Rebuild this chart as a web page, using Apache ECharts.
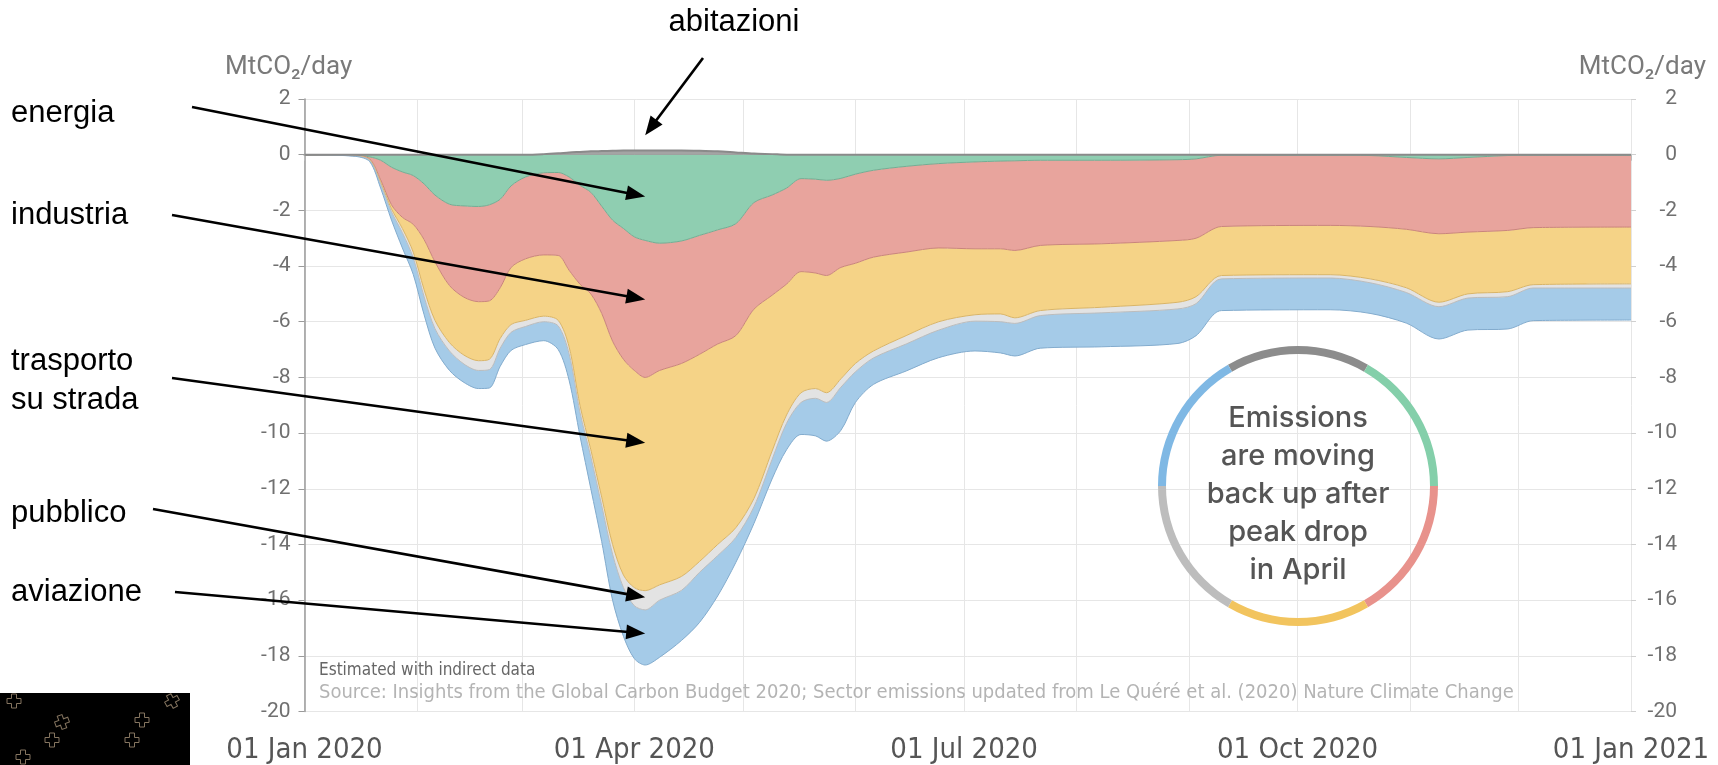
<!DOCTYPE html>
<html>
<head>
<meta charset="utf-8">
<script src="https://cdn.jsdelivr.net/npm/echarts@6/dist/echarts.min.js"></script>
<style>
  html, body { margin: 0; padding: 0; background: #ffffff; }
  #chart { width: 1718px; height: 765px; }
</style>
</head>
<body>
<div id="chart"></div>
<script>
// Daily CO2 emission change by sector in 2020 (MtCO2/day), sampled dates
const dates = [
  '2020-01-01','2020-01-15','2020-01-19','2020-01-22','2020-01-25','2020-01-28','2020-01-31',
  '2020-02-03','2020-02-06','2020-02-10','2020-02-14','2020-02-18','2020-02-21','2020-02-24','2020-02-27',
  '2020-03-02','2020-03-07','2020-03-11','2020-03-14','2020-03-17','2020-03-20','2020-03-23','2020-03-26','2020-03-29',
  '2020-04-01','2020-04-04','2020-04-08','2020-04-14','2020-04-19','2020-04-24','2020-04-29',
  '2020-05-04','2020-05-09','2020-05-13','2020-05-17','2020-05-21','2020-05-24','2020-05-28',
  '2020-06-01','2020-06-06','2020-06-15','2020-06-24',
  '2020-07-04','2020-07-11','2020-07-15','2020-07-22',
  '2020-08-08','2020-08-29','2020-09-03','2020-09-10',
  '2020-10-10','2020-10-21','2020-10-31','2020-11-09','2020-11-17','2020-11-28','2020-12-05','2021-01-01'
];

const abitazioni = [
  0, 0, 0, 0, 0, 0, 0,
  0, 0, 0, 0, 0, 0, 0, 0,
  0, 0.02, 0.05, 0.08, 0.1, 0.12, 0.13, 0.14, 0.15,
  0.15, 0.15, 0.15, 0.15, 0.14, 0.12, 0.08,
  0.04, 0.02, 0, 0, 0, 0, 0,
  0, 0, 0, 0,
  0, 0, 0, 0,
  0, 0, 0, 0,
  0, 0, 0, 0, 0, 0, 0, 0
];

const energia = [
  0, -0.02, -0.08, -0.2, -0.45, -0.62, -0.75,
  -1.05, -1.45, -1.78, -1.84, -1.86, -1.8, -1.6, -1.12,
  -0.8, -0.65, -0.64, -0.8, -1.1, -1.35, -1.85, -2.35, -2.65,
  -2.95, -3.08, -3.18, -3.1, -2.9, -2.7, -2.48,
  -1.72, -1.45, -1.2, -0.86, -0.88, -0.92, -0.85,
  -0.7, -0.56, -0.42, -0.32,
  -0.26, -0.23, -0.22, -0.2,
  -0.2, -0.18, -0.15, -0.02,
  -0.02, -0.03, -0.1, -0.15, -0.1, -0.03, -0.02, -0.02
];

const industria = [
  0, -0.01, -0.07, -0.7, -1.35, -1.63, -1.75,
  -2.0, -2.4, -2.92, -3.28, -3.42, -3.45, -3.18, -2.93,
  -2.94, -2.95, -2.98, -3.35, -3.55, -3.65, -3.85, -4.35, -4.7,
  -4.8, -4.92, -4.57, -4.4, -4.27, -4.1, -4.02,
  -3.83, -3.6, -3.45, -3.34, -3.37, -3.42, -3.2,
  -3.2, -3.12, -3.08, -3.03,
  -3.12, -3.15, -3.22, -3.06,
  -3.0, -2.9, -2.85, -2.56,
  -2.52, -2.55, -2.58, -2.69, -2.68, -2.69, -2.6, -2.58
];

const trasportoSuStrada = [
  0, -0.01, -0.03, -0.1, -0.15, -0.4, -1.0,
  -1.8, -2.1, -2.05, -2.08, -2.12, -2.1, -1.82, -2.05,
  -2.21, -2.2, -2.33, -2.75, -4.35, -5.6, -6.6, -7.3, -7.75,
  -7.8, -7.66, -7.7, -7.65, -7.44, -7.2, -6.9,
  -6.8, -5.6, -4.7, -4.35, -4.15, -4.21, -4.0,
  -3.6, -3.37, -3.0, -2.65,
  -2.37, -2.34, -2.42, -2.34,
  -2.28, -2.22, -2.1, -1.76,
  -1.77, -1.88, -2.1, -2.46, -2.22, -2.2, -2.05, -2.04
];

const pubblico = [
  0, -0.01, -0.02, -0.05, -0.1, -0.15, -0.2,
  -0.25, -0.3, -0.3, -0.32, -0.35, -0.37, -0.35, -0.28,
  -0.22, -0.2, -0.2, -0.25, -0.25, -0.25, -0.3, -0.35, -0.45,
  -0.65, -0.69, -0.55, -0.5, -0.39, -0.4, -0.35,
  -0.3, -0.3, -0.3, -0.35, -0.35, -0.35, -0.3,
  -0.3, -0.25, -0.3, -0.3,
  -0.23, -0.28, -0.2, -0.18,
  -0.2, -0.24, -0.25, -0.12,
  -0.12, -0.14, -0.17, -0.16, -0.15, -0.18, -0.12, -0.15
];

const aviazione = [
  0, -0.01, -0.05, -0.15, -0.3, -0.55, -0.6,
  -0.65, -0.7, -0.7, -0.66, -0.65, -0.66, -0.65, -0.65,
  -0.65, -0.68, -0.85, -0.95, -0.85, -1.15, -1.3, -1.65, -1.75,
  -1.9, -1.98, -2.05, -1.8, -1.8, -1.45, -0.9,
  -0.6, -0.7, -0.95, -1.15, -1.35, -1.39, -1.55,
  -1.1, -0.95, -0.97, -0.99,
  -1.07, -1.12, -1.17, -1.17,
  -1.22, -1.24, -1.15, -1.14,
  -1.14, -1.1, -1.1, -1.16, -1.15, -1.16, -1.17, -1.15
];

// y axis range and step (MtCO2/day)
const yMin = -20, yMax = 2, yStep = 2;
const monthNames = ['Jan','Feb','Mar','Apr','May','Jun','Jul','Aug','Sep','Oct','Nov','Dec'];

// Sector layers, drawn top to bottom of the stack
const sectors = [
  { name: 'abitazioni', values: abitazioni, fill: '#a4a4a4', stroke: '#8a8a8a', lineWidth: 2 },
  { name: 'energia', values: energia, fill: '#8fceb1', stroke: '#72ad93', lineWidth: 1 },
  { name: 'industria', values: industria, fill: '#e8a49d', stroke: '#c9847c', lineWidth: 1 },
  { name: 'trasporto su strada', values: trasportoSuStrada, fill: '#f5d387', stroke: '#d9b466', lineWidth: 1 },
  { name: 'pubblico', values: pubblico, fill: '#e3e3e3', stroke: '#bcbcbc', lineWidth: 1 },
  { name: 'aviazione', values: aviazione, fill: '#a5cbe8', stroke: '#82abcd', lineWidth: 1 }
];

// Ring around the note: one segment per sector colour
const ringSegments = [1, 1, 1, 1, 1, 1];
const ringColors = ['#8c8c8c', '#84cfaa', '#e8928c', '#f2c45e', '#bdbdbd', '#7fb8e4'];

// Callout labels and where their arrows point (date, MtCO2/day)
const callouts = [
  { text: ['abitazioni'], tx: 734, ty: 22, align: 'center', from: [703, 58], tip: ['2020-04-04', 0.7] },
  { text: ['energia'], tx: 11, ty: 113, align: 'left', from: [192, 107], tip: ['2020-04-04', -1.5] },
  { text: ['industria'], tx: 11, ty: 215, align: 'left', from: [172, 215], tip: ['2020-04-04', -5.2] },
  { text: ['trasporto', 'su strada'], tx: 11, ty: 381, align: 'left', from: [172, 378], tip: ['2020-04-04', -10.35] },
  { text: ['pubblico'], tx: 11, ty: 513, align: 'left', from: [153, 509], tip: ['2020-04-04', -15.9] },
  { text: ['aviazione'], tx: 11, ty: 592, align: 'left', from: [175, 592], tip: ['2020-04-04', -17.2] }
];

const AXIS_FONT = '"Liberation Sans Narrow", "DejaVu Sans Condensed", "Roboto", sans-serif';
const TICK_FONT = 'Roboto, "Noto Sans", sans-serif';

function pad2(n) { return n < 10 ? '0' + n : '' + n; }

const chart = echarts.init(document.getElementById('chart'), null, { renderer: 'canvas' });

const areaSeries = sectors.map(function (s, k) {
  return {
    name: s.name,
    type: 'line',
    stack: 'emissions',
    smooth: 0.3,
    symbol: 'none',
    z: k === 0 ? 4 : 2,
    lineStyle: { color: s.stroke, width: s.lineWidth },
    areaStyle: { color: s.fill, opacity: 1 },
    emphasis: { disabled: true },
    data: dates.map(function (d, i) { return [d, s.values[i]]; })
  };
});

const option = {
  animation: false,
  backgroundColor: '#ffffff',
  grid: { left: 304.5, right: 87, top: 99, bottom: 53.5, containLabel: false },
  xAxis: {
    type: 'time',
    min: '2020-01-01',
    max: '2021-01-01',
    splitNumber: 12,
    axisLine: { show: true, lineStyle: { color: '#8c8c8c', width: 2 } },
    axisTick: { show: true, length: 6, lineStyle: { color: '#bbbbbb' } },
    splitLine: { show: true, lineStyle: { color: '#e6e6e6', width: 1 } },
    axisLabel: {
      color: '#555555',
      fontSize: 29,
      fontFamily: AXIS_FONT,
      margin: 24,
      hideOverlap: false,
      showMinLabel: true,
      showMaxLabel: true,
      formatter: function (val) {
        const d = new Date(val);
        if (d.getDate() === 1 && d.getMonth() % 3 === 0) {
          return pad2(d.getDate()) + ' ' + monthNames[d.getMonth()] + ' ' + d.getFullYear();
        }
        return '';
      }
    }
  },
  yAxis: [
    {
      type: 'value', position: 'left', min: yMin, max: yMax, interval: yStep,
      axisLine: { show: true, lineStyle: { color: '#9a9a9a', width: 1.5 } },
      axisTick: { show: true, length: 6, lineStyle: { color: '#9a9a9a' } },
      splitLine: { show: true, lineStyle: { color: '#e6e6e6', width: 1 } },
      axisLabel: { color: '#707070', fontSize: 21, fontFamily: TICK_FONT, margin: 14 }
    },
    {
      type: 'value', position: 'right', min: yMin, max: yMax, interval: yStep,
      axisLine: { show: false },
      axisTick: { show: true, length: 5, lineStyle: { color: '#d0d0d0' } },
      splitLine: { show: false },
      axisLabel: { color: '#707070', fontSize: 21, fontFamily: TICK_FONT, margin: 46, align: 'right' }
    }
  ],
  series: areaSeries.concat([
    {
      type: 'pie',
      silent: true,
      center: [1298, 486],
      radius: [132, 140],
      startAngle: 120,
      clockwise: true,
      label: { show: false },
      labelLine: { show: false },
      emphasis: { disabled: true },
      itemStyle: { borderWidth: 0 },
      z: 5,
      data: ringSegments.map(function (v, i) { return { value: v, itemStyle: { color: ringColors[i] } }; })
    }
  ])
};

chart.setOption(option);

// Overlay texts, callout arrows and the note in the ring
function arrowShapes(x1, y1, x2, y2) {
  const dx = x2 - x1, dy = y2 - y1;
  const len = Math.sqrt(dx * dx + dy * dy);
  const ux = dx / len, uy = dy / len;
  const headLen = 19, headHalf = 7.5;
  const bx = x2 - ux * headLen, by = y2 - uy * headLen;
  return [
    { type: 'line', z: 50, shape: { x1: x1, y1: y1, x2: bx + ux * 2, y2: by + uy * 2 },
      style: { stroke: '#000000', lineWidth: 2.6 } },
    { type: 'polygon', z: 50, shape: { points: [[x2, y2], [bx - uy * headHalf, by + ux * headHalf], [bx + uy * headHalf, by - ux * headHalf]] },
      style: { fill: '#000000' } }
  ];
}

const graphics = [];

graphics.push({ type: 'text', x: 225, y: 67, z: 40,
  style: { text: 'MtCO₂/day', fill: '#7a7a7a', fontSize: 26, fontFamily: TICK_FONT, align: 'left', verticalAlign: 'middle' } });
graphics.push({ type: 'text', x: 1706, y: 67, z: 40,
  style: { text: 'MtCO₂/day', fill: '#7a7a7a', fontSize: 26, fontFamily: TICK_FONT, align: 'right', verticalAlign: 'middle' } });

graphics.push({ type: 'text', x: 319, y: 671, z: 40,
  style: { text: 'Estimated with indirect data', fill: '#666666', fontSize: 17, fontFamily: AXIS_FONT, align: 'left', verticalAlign: 'middle' } });
graphics.push({ type: 'text', x: 319, y: 693, z: 40,
  style: { text: 'Source: Insights from the Global Carbon Budget 2020; Sector emissions updated from Le Quéré et al. (2020) Nature Climate Change',
    fill: '#b4b4b4', fontSize: 20, fontFamily: AXIS_FONT, align: 'left', verticalAlign: 'middle' } });

graphics.push({ type: 'text', x: 1298, y: 494, z: 40,
  style: { text: 'Emissions\nare moving\nback up after\npeak drop\nin April', fill: '#555555', fontSize: 29, fontWeight: 500,
    lineHeight: 38, fontFamily: 'Inter, "Open Sans", sans-serif', align: 'center', verticalAlign: 'middle' } });

callouts.forEach(function (c) {
  graphics.push({ type: 'text', x: c.tx, y: c.ty, z: 50,
    style: { text: c.text.join('\n'), fill: '#000000', fontSize: 31, lineHeight: 39,
      fontFamily: '"Liberation Sans", Arial, sans-serif', align: c.align, verticalAlign: 'middle' } });
  const tipPx = chart.convertToPixel({ xAxisIndex: 0, yAxisIndex: 0 }, [+new Date(c.tip[0] + 'T00:00:00'), c.tip[1]]);
  arrowShapes(c.from[0], c.from[1], tipPx[0], tipPx[1]).forEach(function (g) { graphics.push(g); });
});

// Dark corner panel with outlined crosses
graphics.push({ type: 'rect', z: 30, shape: { x: 0, y: 693, width: 190, height: 72 }, style: { fill: '#000000' } });
const crossCentres = [[14, 701], [62, 722], [52, 740], [23, 757], [142, 720], [132, 740], [172, 701]];
const crossTilt = [0, 0.35, 0, 0, 0, 0, 0.5];
crossCentres.forEach(function (p, i) {
  const a = 2.5, b = 7;
  const pts = [[-a, -b], [a, -b], [a, -a], [b, -a], [b, a], [a, a], [a, b], [-a, b], [-a, a], [-b, a], [-b, -a], [-a, -a]];
  graphics.push({ type: 'polygon', z: 31, x: p[0], y: p[1], rotation: crossTilt[i],
    shape: { points: pts }, style: { fill: 'none', stroke: '#857560', lineWidth: 1 } });
});

chart.setOption({ graphic: graphics });
</script>
</body>
</html>
